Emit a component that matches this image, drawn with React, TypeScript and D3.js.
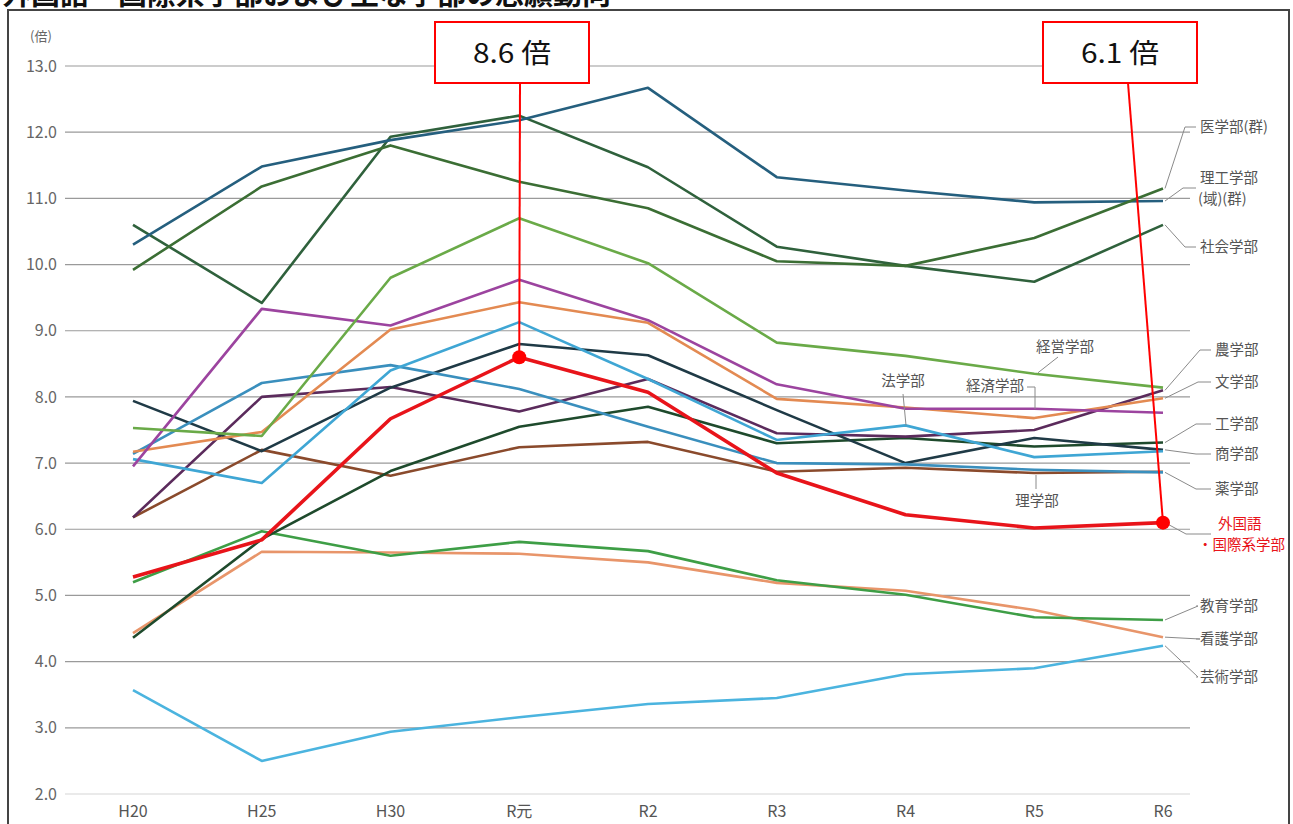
import * as d3 from 'd3'

const categories = ['H20', 'H25', 'H30', 'R元', 'R2', 'R3', 'R4', 'R5', 'R6']
const yTicks = [2, 3, 4, 5, 6, 7, 8, 9, 10, 11, 12, 13]

// 志願倍率（倍）
const igaku = [9.92, 11.18, 11.8, 11.25, 10.85, 10.05, 9.98, 10.4, 11.15]
const riko = [10.3, 11.48, 11.88, 12.18, 12.67, 11.32, 11.12, 10.94, 10.96]
const shakai = [10.6, 9.42, 11.93, 12.25, 11.47, 10.27, 9.98, 9.74, 10.6]
const keiei = [7.53, 7.41, 9.8, 10.7, 10.02, 8.82, 8.62, 8.35, 8.14]
const keizai = [6.95, 9.33, 9.08, 9.77, 9.16, 8.19, 7.82, 7.82, 7.76]
const bungaku = [7.17, 7.47, 9.02, 9.43, 9.12, 7.97, 7.84, 7.68, 7.98]
const hogaku = [7.06, 6.7, 8.4, 9.13, 8.27, 7.35, 7.57, 7.09, 7.18]
const yakugaku = [7.14, 8.21, 8.48, 8.12, 7.55, 7.0, 6.98, 6.9, 6.86]
const shogaku = [7.94, 7.18, 8.14, 8.8, 8.63, 7.8, 7.0, 7.38, 7.2]
const nogaku = [6.18, 8.0, 8.15, 7.78, 8.27, 7.45, 7.4, 7.5, 8.1]
const kogaku = [4.36, 5.85, 6.88, 7.55, 7.85, 7.3, 7.38, 7.25, 7.31]
const rigaku = [6.18, 7.2, 6.81, 7.24, 7.32, 6.87, 6.93, 6.85, 6.87]
const kyoiku = [5.2, 5.97, 5.6, 5.81, 5.67, 5.23, 5.01, 4.67, 4.63]
const kango = [4.43, 5.66, 5.65, 5.63, 5.5, 5.19, 5.07, 4.78, 4.37]
const geijutsu = [3.57, 2.5, 2.94, 3.16, 3.36, 3.45, 3.81, 3.9, 4.24]
const gaikokugo = [5.28, 5.84, 7.67, 8.6, 8.07, 6.85, 6.22, 6.02, 6.1]

const series = [
  { name: '芸術学部', values: geijutsu, color: '#4bb4df' },
  { name: '看護学部', values: kango, color: '#e8956a' },
  { name: '教育学部', values: kyoiku, color: '#3e9e46' },
  { name: '理学部', values: rigaku, color: '#8a4a2c' },
  { name: '工学部', values: kogaku, color: '#1e4a2c' },
  { name: '農学部', values: nogaku, color: '#5b2b5c' },
  { name: '商学部', values: shogaku, color: '#1f3a46' },
  { name: '薬学部', values: yakugaku, color: '#3a8fbd' },
  { name: '法学部', values: hogaku, color: '#3fa6d4' },
  { name: '文学部', values: bungaku, color: '#e38a52' },
  { name: '経済学部', values: keizai, color: '#9c449f' },
  { name: '経営学部', values: keiei, color: '#6aaa48' },
  { name: '社会学部', values: shakai, color: '#2f613c' },
  { name: '理工学部', values: riko, color: '#255f7e' },
  { name: '医学部', values: igaku, color: '#3b6e34' },
]

const W = 1293
const H = 824
const x = d3.scalePoint<string>().domain(categories).range([133, 1163])
const y = d3.scaleLinear().domain([2, 13]).range([794, 66])
const line = d3.line<number>().x((_, i) => x(categories[i]) as number).y(d => y(d))

const sans = '"Noto Sans CJK JP", "Noto Sans", sans-serif'
const last = (v: number[]) => v[v.length - 1]
const xEnd = x('R6') as number

// right-side labels: text lines, series, label y, elbow x
const rightLabels: { lines: string[]; v: number[]; ly: number; ex: number; color?: string }[] = [
  { lines: ['医学部(群)'], v: igaku, ly: 127, ex: 1185 },
  { lines: ['理工学部', '(域)(群)'], v: riko, ly: 188, ex: 1183 },
  { lines: ['社会学部'], v: shakai, ly: 247, ex: 1185 },
  { lines: ['農学部'], v: nogaku, ly: 350, ex: 1200 },
  { lines: ['文学部'], v: bungaku, ly: 382, ex: 1198 },
  { lines: ['工学部'], v: kogaku, ly: 424, ex: 1196 },
  { lines: ['商学部'], v: shogaku, ly: 454, ex: 1196 },
  { lines: ['薬学部'], v: yakugaku, ly: 489, ex: 1196 },
  { lines: ['外国語', '・国際系学部'], v: gaikokugo, ly: 534, ex: 1186, color: '#e8141a' },
  { lines: ['教育学部'], v: kyoiku, ly: 606, ex: 1198 },
  { lines: ['看護学部'], v: kango, ly: 639, ex: 1200 },
  { lines: ['芸術学部'], v: geijutsu, ly: 677, ex: 1198 },
]

function RightLabel({ lines, v, ly, ex, color }: { lines: string[]; v: number[]; ly: number; ex: number; color?: string }) {
  const sy = y(last(v))
  const twoLine = lines.length === 2
  const tx = lines[0].length <= 3 ? 1215 : 1200
  return (
    <g>
      <polyline
        points={`${xEnd + 2},${sy} ${ex},${ly} ${tx - 4},${ly}`}
        fill="none"
        stroke="#8a8a8a"
        strokeWidth={1}
      />
      {twoLine ? (
        <>
          <text x={color ? 1218 : 1200} y={ly - 10} dy="0.35em" fontSize={14.5} fill={color || '#555'} fontFamily={sans}>
            {lines[0]}
          </text>
          <text x={1198} y={ly + 11} dy="0.35em" fontSize={14.5} fill={color || '#555'} fontFamily={sans}>
            {lines[1]}
          </text>
        </>
      ) : (
        <text x={tx} y={ly} dy="0.35em" fontSize={14.5} fill="#555" fontFamily={sans}>
          {lines[0]}
        </text>
      )}
    </g>
  )
}

function Callout({ cx, value, bx, label }: { cx: string; value: number[]; bx: number; label: string }) {
  const i = categories.indexOf(cx)
  const px = x(cx) as number
  const py = y(value[i])
  return (
    <g>
      <rect x={bx} y={22} width={154} height={61} fill="#fff" stroke="#ff0000" strokeWidth={2} />
      <text
        x={bx + 77}
        y={54}
        dy="0.35em"
        textAnchor="middle"
        fontSize={27}
        fill="#111"
        fontFamily={sans}
        textLength={78}
        lengthAdjust="spacingAndGlyphs"
      >
        {label}
      </text>
      <line x1={bx + 85} y1={83} x2={px} y2={py} stroke="#ff0000" strokeWidth={2} />
      <circle cx={px} cy={py} r={7} fill="#ff0000" />
    </g>
  )
}

export default function App() {
  return (
    <svg width={W} height={H} style={{ position: 'absolute', left: 0, top: 0, background: '#fff' }}>
      <rect width={W} height={H} fill="#fff" />
      {/* title, cut at the top edge like the source image */}
      <text x={2} y={5} fontSize={29} fontWeight="bold" fill="#111" fontFamily={sans}>
        外国語・国際系学部および主な学部の志願動向
      </text>
      <rect x={8} y={10} width={1281} height={830} fill="none" stroke="#444" strokeWidth={2} />

      {/* grid */}
      {yTicks.map(t => (
        <g key={t}>
          <line x1={65} x2={1190} y1={y(t)} y2={y(t)} stroke={t === 2 ? '#d5d5d5' : '#9a9a9a'} strokeWidth={1.2} />
          <text x={57} y={y(t)} dy="0.35em" textAnchor="end" fontSize={16} fill="#666" fontFamily={sans}>
            {t.toFixed(1)}
          </text>
        </g>
      ))}
      <text x={30} y={41} fontSize={13} fill="#666" fontFamily={sans}>(倍)</text>
      {categories.map(c => (
        <text key={c} x={x(c) as number} y={811} dy="0.35em" textAnchor="middle" fontSize={16} fill="#555" fontFamily={sans}>
          {c}
        </text>
      ))}

      {/* series */}
      {series.map(s => (
        <path key={s.name} d={line(s.values) || ''} fill="none" stroke={s.color} strokeWidth={2.6} strokeLinejoin="round" />
      ))}
      <path d={line(gaikokugo) || ''} fill="none" stroke="#e8141a" strokeWidth={3.6} strokeLinejoin="round" />

      {/* inline labels */}
      <line x1={1058} y1={357} x2={1038} y2={y(keiei[7]) - 1} stroke="#8a8a8a" strokeWidth={1} />
      <text x={1065} y={347} dy="0.35em" textAnchor="middle" fontSize={14.5} fill="#555" fontFamily={sans}>経営学部</text>
      <polyline points={`1027,387 1035,387 1035,${y(keizai[7])}`} fill="none" stroke="#8a8a8a" strokeWidth={1} />
      <text x={995} y={386} dy="0.35em" textAnchor="middle" fontSize={14.5} fill="#555" fontFamily={sans}>経済学部</text>
      <line x1={903} y1={394} x2={906} y2={y(hogaku[6])} stroke="#8a8a8a" strokeWidth={1} />
      <text x={903} y={381} dy="0.35em" textAnchor="middle" fontSize={14.5} fill="#555" fontFamily={sans}>法学部</text>
      <line x1={1036} y1={y(rigaku[7]) + 2} x2={1036} y2={489} stroke="#8a8a8a" strokeWidth={1} />
      <text x={1037} y={501} dy="0.35em" textAnchor="middle" fontSize={14.5} fill="#555" fontFamily={sans}>理学部</text>

      {rightLabels.map(l => (
        <RightLabel key={l.lines[0]} {...l} />
      ))}

      <Callout cx="R元" value={gaikokugo} bx={435} label="8.6 倍" />
      <Callout cx="R6" value={gaikokugo} bx={1043} label="6.1 倍" />
    </svg>
  )
}
